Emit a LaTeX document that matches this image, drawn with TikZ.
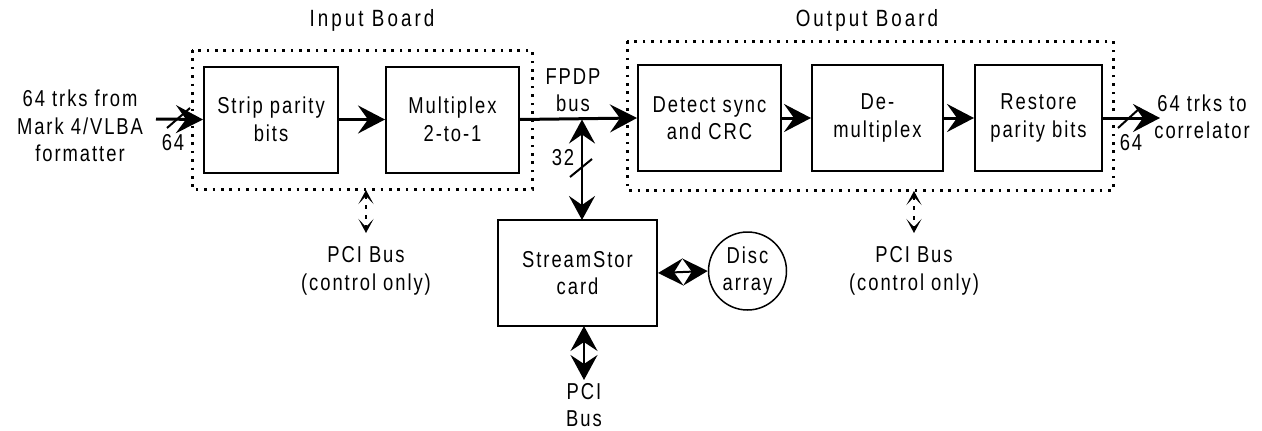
\documentclass[tikz,border=0pt]{standalone}
\usepackage{fontspec}
\setmainfont{Liberation Sans}[FakeStretch=0.8, LetterSpace=8.5]
\usetikzlibrary{arrows.meta}
\begin{document}
\begin{tikzpicture}[x=1pt,y=-1pt,
  txt/.style={font=\fontsize{23}{27.5}\selectfont, align=center, inner sep=0pt},
  ttl/.style={font=\fontsize{23.5}{27.5}\selectfont\addfontfeatures{LetterSpace=13}, align=center, inner sep=0pt},
  blk/.style={draw, line width=2pt, minimum height=106pt, txt},
  board/.style={line width=3pt, dash pattern=on 2.6pt off 5.8pt},
  mainarrow/.style={line width=3pt, -{Stealth[length=27pt,width=28pt,inset=10pt]}},
  dbl/.style={line width=2pt, {Stealth[length=25pt,width=27pt,inset=9pt]}-{Stealth[length=25pt,width=27pt,inset=9pt]}},
  busdbl/.style={line width=2.5pt, {Stealth[length=24pt,width=26pt,inset=9pt]}-{Stealth[length=24pt,width=26pt,inset=9pt]}},
  ctrl/.style={line width=1.5pt, dash pattern=on 4pt off 6pt, {Stealth[length=14pt,width=15pt,inset=8pt]}-{Stealth[length=14pt,width=15pt,inset=8pt]}},
  slash/.style={line width=2pt}
]
\useasboundingbox (0,0) rectangle (1262,431);

% boards
\draw[board] (192,50) rectangle (532,189);
\draw[board] (627,41) rectangle (1113,190);
\node[ttl] (tin) at (372,20) {Input Board};
\node[ttl] (tout) at (867,20) {Output Board};

% blocks
\node[blk, minimum width=134pt] (strip) at (271,119.5) {Strip parity\\bits};
\node[blk, minimum width=133pt] (mux) at (452.5,119.5) {Multiplex\\2-to-1};
\node[blk, minimum width=143pt] (detect) at (709.5,118) {Detect sync\\and CRC};
\node[blk, minimum width=131pt] (demux) at (877.5,118) {De-\\multiplex};
\node[blk, minimum width=127pt] (restore) at (1038.5,118) {Restore\\parity bits};
\node[blk, minimum width=159pt] (stream) at (577.5,273) {StreamStor\\card};
\node[draw, circle, line width=1.5pt, minimum size=78pt, txt] (disc) at (747.5,271) {Disc\\array};

% left input
\node[txt] (src) at (80,126) {64 trks from\\Mark 4/VLBA\\formatter};
\coordinate (inS) at (156,119);
\draw[mainarrow] (inS) -- (strip.west);
\coordinate (s1a) at (167,128);
\coordinate (s1b) at (190,108);
\draw[slash] (s1a) -- (s1b);
\node[txt] (n64a) at (173,143) {64};

\draw[mainarrow] (strip.east) -- (mux.west);
\draw[mainarrow] (mux.east) -- (detect.west);
\draw[mainarrow] (detect.east) -- (demux.west);
\draw[mainarrow] (demux.east) -- (restore.west);

% FPDP bus
\node[txt] (fpdp) at (573,90) {FPDP\\bus};
\coordinate (tap) at (582,119.5);
\coordinate (tapS) at (582,220);
\draw[busdbl] (tap) -- (tapS);
\coordinate (s2a) at (570,177);
\coordinate (s2b) at (592,159);
\draw[slash] (s2a) -- (s2b);
\node[txt] (n32) at (563,158) {32};

% output
\coordinate (outE) at (1160,118);
\draw[mainarrow] (restore.east) -- (outE);
\coordinate (s3a) at (1118,128);
\coordinate (s3b) at (1140,108);
\draw[slash] (s3a) -- (s3b);
\node[txt] (n64b) at (1131,143) {64};
\node[txt] (dst) at (1202,117) {64 trks to\\correlator};

% StreamStor connections
\draw[dbl] (stream.east) -- (disc.west);
\coordinate (stS) at (584,326);
\coordinate (pciE) at (584,380);
\draw[dbl] (stS) -- (pciE);
\node[txt] (pci) at (584,405) {PCI\\Bus};

% control PCI buses
\coordinate (c1a) at (366,190);
\coordinate (c1b) at (366,233);
\draw[ctrl] (c1a) -- (c1b);
\node[txt] (pci1) at (366,271) {PCI Bus\\(control only)};
\coordinate (c2a) at (914,191);
\coordinate (c2b) at (914,233);
\draw[ctrl] (c2a) -- (c2b);
\node[txt] (pci2) at (914,271) {PCI Bus\\(control only)};
\end{tikzpicture}
\end{document}
